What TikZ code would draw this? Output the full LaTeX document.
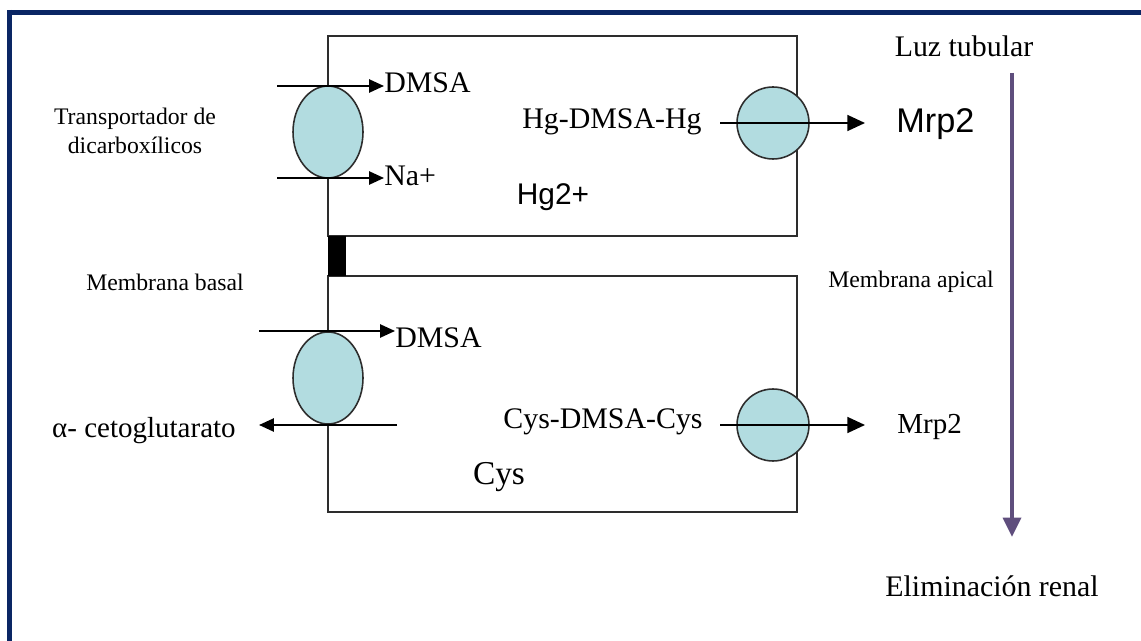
\documentclass[tikz,border=0pt]{standalone}
\usepackage{fontspec}
\setmainfont{Liberation Serif}
\newfontfamily\arialfont{Liberation Sans}
\usetikzlibrary{shapes.geometric,arrows.meta}

\definecolor{frameblue}{RGB}{10,38,100}
\definecolor{carrierfill}{RGB}{178,220,224}
\definecolor{flowpurple}{RGB}{95,78,125}
\definecolor{wallgray}{RGB}{45,45,45}

\begin{document}
\begin{tikzpicture}[
    x=0.02cm, y=-0.02cm,
    wall/.style={draw=wallgray, line width=1.1pt},
    pump/.style={draw=wallgray, fill=carrierfill, line width=0.9pt},
    carrier/.style={pump, ellipse, minimum width=1.4cm, minimum height=1.84cm},
    exporter/.style={pump, circle, minimum size=1.44cm},
    arrow/.style={-{Triangle[length=8.5pt,width=7.5pt]}, line width=1.1pt},
    bigarrow/.style={-{Triangle[length=10pt,width=9pt]}, line width=1.1pt},
    smalltxt/.style={font=\fontsize{13.5}{16.5}\selectfont, inner sep=0pt, align=center},
    txt/.style={font=\fontsize{17}{20}\selectfont, inner sep=0pt},
    sanstxt/.style={font=\arialfont\fontsize{17}{20}\selectfont, inner sep=0pt}
]
\useasboundingbox[fill=white] (0,0) rectangle (1141,641);

% Frame
\draw[frameblue, line width=2.85pt] (9.5,10) -- (9.5,641);
\draw[frameblue, line width=2.85pt] (7,12.5) -- (1141,12.5);

% Cells
\draw[wall] (328,36) rectangle (797,236);
\draw[wall] (328,276) rectangle (797,512);
\fill[black] (328,236) rectangle (346,276);

% Carriers
\node[carrier] (dicA) at (328,132) {};
\node[carrier] (dicB) at (328,378) {};
\node[exporter] (mrpA) at (773,123) {};
\node[exporter] (mrpB) at (773,425) {};

% Labels
\node[smalltxt] (trans) at (135,131) {Transportador de\\dicarboxílicos};
\node[smalltxt] (basal) at (165,282) {Membrana basal};
\node[smalltxt] (apical) at (911,282) {Membrana apical};
\node[txt] (luz) at (964,46) {Luz tubular};
\node[txt] (elim) at (992,586) {Eliminación renal};

\node[txt, anchor=west] (dmsaA) at (384,83) {DMSA};
\node[txt, anchor=west] (na) at (384,176) {Na+};
\node[txt] (hgdmsa) at (612,122) {Hg-DMSA-Hg};
\node[sanstxt] (hg) at (553,197) {Hg2+};
\node[sanstxt, anchor=west, font=\arialfont\fontsize{19.5}{22}\selectfont] (mrp2A) at (896,124) {Mrp2};

\node[txt, anchor=west] (dmsaB) at (395,338) {DMSA};
\node[txt, anchor=east, font=\fontsize{16.5}{19}\selectfont] (akg) at (236,431) {α- cetoglutarato};
\node[txt] (cysdmsa) at (603,422) {Cys-DMSA-Cys};
\node[txt, font=\fontsize{19}{22}\selectfont] (cys) at (499,477) {Cys};
\node[txt, anchor=west, font=\fontsize{16.5}{19}\selectfont] (mrp2B) at (897,427) {Mrp2};

% Connector ends
\coordinate (dmsaAin) at (277,86);
\coordinate (naIn) at (277,178);
\coordinate (dmsaBin) at (259,331);
\coordinate (akgIn) at (397,425);
\coordinate (akgTip) at (259,425);
\coordinate (mrpAin) at (720,123);
\coordinate (mrpAtip) at (865,123);
\coordinate (mrpBin) at (720,425);
\coordinate (mrpBtip) at (865,425);
\coordinate (lumTop) at (1012,73);
\coordinate (lumEnd) at (1012,537);

% Arrows
\draw[arrow] (dmsaAin) -- (dmsaA.west |- dmsaAin);
\draw[arrow] (naIn) -- (na.west |- naIn);
\draw[arrow] (dmsaBin) -- (dmsaB.west |- dmsaBin);
\draw[arrow] (akgIn) -- (akgTip);
\draw[bigarrow] (mrpAin) -- (mrpAtip);
\draw[bigarrow] (mrpBin) -- (mrpBtip);
\draw[flowpurple, line width=2.6pt, -{Triangle[length=11pt,width=10pt]}] (lumTop) -- (lumEnd);

\end{tikzpicture}
\end{document}
